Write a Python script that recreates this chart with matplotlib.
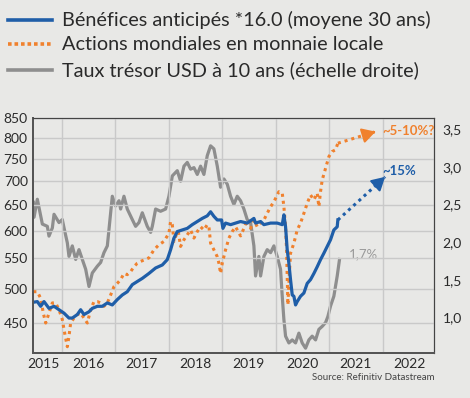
import matplotlib.pyplot as plt
import numpy as np
from matplotlib.lines import Line2D
from matplotlib.ticker import FixedLocator, FuncFormatter, NullFormatter

plt.rcParams['font.family'] = ['Lato', 'DejaVu Sans']

# Bénéfices anticipés *16.0 (axe gauche)
blue_t = [2015.470, 2015.545, 2015.607, 2015.670, 2015.763, 2015.857, 2015.950, 2016.044,
          2016.137, 2016.199, 2016.293, 2016.355, 2016.417, 2016.511, 2016.573, 2016.667,
          2016.760, 2016.854, 2016.947, 2017.040, 2017.134, 2017.227, 2017.321, 2017.414,
          2017.508, 2017.632, 2017.757, 2017.882, 2017.975, 2018.037, 2018.100, 2018.162,
          2018.255, 2018.349, 2018.442, 2018.536, 2018.629, 2018.723, 2018.785, 2018.847,
          2018.910, 2018.991, 2019.016, 2019.065, 2019.159, 2019.252, 2019.346, 2019.470,
          2019.595, 2019.626, 2019.720, 2019.782, 2019.907, 2020.031, 2020.125, 2020.156,
          2020.187, 2020.218, 2020.249, 2020.280, 2020.312, 2020.343, 2020.374, 2020.405,
          2020.467, 2020.530, 2020.592, 2020.654, 2020.717, 2020.779, 2020.841, 2020.903,
          2020.966, 2021.028, 2021.090, 2021.153, 2021.165]
blue_v = [480, 481, 474, 481, 471, 474, 469, 464,
          457, 457, 462, 469, 462, 466, 471, 474,
          474, 479, 476, 484, 491, 496, 507, 512,
          517, 525, 534, 539, 548, 565, 586, 598,
          601, 604, 611, 617, 623, 628, 636, 627,
          620, 620, 604, 614, 611, 614, 617, 614,
          623, 614, 617, 611, 614, 614, 611, 630,
          607, 565, 542, 515, 491, 489, 476, 481,
          489, 494, 509, 515, 525, 536, 548, 559,
          571, 583, 601, 607, 620]

# Actions mondiales en monnaie locale (axe gauche)
orange_t = [2015.470, 2015.545, 2015.607, 2015.657, 2015.701, 2015.763, 2015.826, 2015.888,
            2015.950, 2016.012, 2016.044, 2016.075, 2016.106, 2016.137, 2016.168, 2016.230,
            2016.293, 2016.355, 2016.417, 2016.480, 2016.542, 2016.604, 2016.667, 2016.729,
            2016.791, 2016.854, 2016.916, 2016.978, 2017.040, 2017.103, 2017.165, 2017.227,
            2017.290, 2017.352, 2017.414, 2017.477, 2017.632, 2017.726, 2017.819, 2017.913,
            2018.006, 2018.037, 2018.069, 2018.100, 2018.131, 2018.181, 2018.224, 2018.287,
            2018.349, 2018.411, 2018.474, 2018.536, 2018.598, 2018.660, 2018.723, 2018.754,
            2018.785, 2018.847, 2018.910, 2018.941, 2018.972, 2019.003, 2019.065, 2019.128,
            2019.190, 2019.252, 2019.346, 2019.408, 2019.470, 2019.533, 2019.595, 2019.657,
            2019.720, 2019.782, 2019.844, 2019.907, 2019.969, 2020.031, 2020.062, 2020.125,
            2020.156, 2020.187, 2020.206, 2020.218, 2020.231, 2020.255, 2020.280, 2020.343,
            2020.405, 2020.467, 2020.530, 2020.592, 2020.654, 2020.717, 2020.779, 2020.810,
            2020.841, 2020.872, 2020.935, 2020.997, 2021.059, 2021.121, 2021.165]
orange_v = [496, 496, 486, 464, 450, 464, 479, 479,
            469, 455, 441, 429, 418, 432, 450, 457,
            462, 464, 457, 450, 469, 481, 481, 479,
            474, 479, 491, 504, 509, 515, 525, 523,
            528, 536, 542, 545, 551, 565, 574, 580,
            595, 617, 611, 580, 589, 598, 571, 583,
            592, 601, 586, 598, 607, 601, 611, 607,
            577, 565, 553, 542, 525, 542, 565, 586,
            598, 607, 590, 604, 620, 604, 620, 607,
            614, 620, 633, 646, 656, 670, 677, 674,
            646, 607, 565, 520, 476, 520, 559, 577,
            601, 614, 633, 653, 670, 660, 674, 646,
            677, 702, 728, 755, 767, 771, 787]

# Taux trésor USD à 10 ans (axe droit)
grey_t = [2015.470, 2015.483, 2015.545, 2015.639, 2015.732, 2015.763, 2015.826, 2015.857,
          2015.950, 2016.012, 2016.044, 2016.106, 2016.137, 2016.199, 2016.262, 2016.324,
          2016.386, 2016.449, 2016.511, 2016.573, 2016.667, 2016.729, 2016.791, 2016.854,
          2016.916, 2016.947, 2017.009, 2017.072, 2017.103, 2017.165, 2017.227, 2017.321,
          2017.383, 2017.445, 2017.508, 2017.601, 2017.664, 2017.695, 2017.757, 2017.850,
          2017.944, 2018.006, 2018.069, 2018.162, 2018.224, 2018.287, 2018.349, 2018.411,
          2018.474, 2018.536, 2018.598, 2018.660, 2018.723, 2018.785, 2018.847, 2018.910,
          2018.972, 2019.034, 2019.097, 2019.159, 2019.221, 2019.283, 2019.346, 2019.408,
          2019.470, 2019.533, 2019.595, 2019.626, 2019.688, 2019.720, 2019.782, 2019.844,
          2019.907, 2019.969, 2020.031, 2020.093, 2020.125, 2020.156, 2020.187, 2020.249,
          2020.312, 2020.374, 2020.436, 2020.498, 2020.561, 2020.623, 2020.685, 2020.748,
          2020.810, 2020.872, 2020.935, 2020.978, 2021.028, 2021.090, 2021.153, 2021.196]
grey_v = [2.53, 2.33, 2.57, 2.24, 2.21, 2.08, 2.19, 2.37,
          2.26, 2.30, 2.19, 1.99, 1.81, 1.95, 1.77, 1.90,
          1.77, 1.64, 1.41, 1.59, 1.68, 1.73, 1.86, 1.95,
          2.39, 2.61, 2.48, 2.55, 2.44, 2.61, 2.44, 2.30,
          2.21, 2.26, 2.39, 2.21, 2.13, 2.21, 2.44, 2.41,
          2.44, 2.61, 2.88, 2.95, 2.81, 3.01, 3.06, 2.97,
          2.99, 2.90, 3.01, 2.90, 3.15, 3.28, 3.24, 3.01,
          2.73, 2.84, 2.77, 2.61, 2.50, 2.61, 2.55, 2.44,
          2.30, 2.26, 1.95, 1.55, 1.81, 1.55, 1.81, 1.90,
          1.86, 1.95, 1.81, 1.64, 1.28, 0.97, 0.75, 0.66,
          0.70, 0.66, 0.79, 0.66, 0.59, 0.70, 0.75, 0.70,
          0.84, 0.88, 0.93, 1.01, 1.15, 1.28, 1.55, 1.77]

# projections
blue_proj = [2022.05, 709]
orange_proj = [2021.87, 816]

years = [2015, 2016, 2017, 2018, 2019, 2020, 2021, 2022]
left_ticks = [450, 500, 550, 600, 650, 700, 750, 800, 850]
right_ticks = [0.5, 1.0, 1.5, 2.0, 2.5, 3.0, 3.5]

c_blue = '#1f5ea8'
c_orange = '#f0812e'
c_grey = '#8e8e8e'
bg = '#e8e8e6'
txt = '#2a2a2a'

fig = plt.figure(figsize=(4.7, 3.98), dpi=100, facecolor=bg)
ax = fig.add_axes([0.0709, 0.1138, 0.8533, 0.5897])
ax2 = ax.twinx()
ax.set_zorder(ax2.get_zorder() + 1)
ax.patch.set_visible(False)
ax2.patch.set_facecolor('white')

ax2.plot(grey_t, grey_v, color=c_grey, lw=2.3, solid_joinstyle='round')
ax.plot(orange_t, orange_v, color=c_orange, lw=2.2, linestyle=(0, (1, 1.3)))
ax.plot(blue_t, blue_v, color=c_blue, lw=2.3, solid_joinstyle='round')


def proj(t, v, tip, color):
    ax.plot([t[-1], tip[0]], [v[-1], tip[1]], color=color, lw=2.2, linestyle=(0, (1, 1.3)))
    f = 0.95
    xs = t[-1] + f * (tip[0] - t[-1])
    ys = np.exp(np.log(v[-1]) + f * (np.log(tip[1]) - np.log(v[-1])))
    ax.annotate('', xy=(tip[0], tip[1]), xytext=(xs, ys),
                arrowprops=dict(arrowstyle='-|>,head_length=0.8,head_width=0.45',
                                color=color, lw=1.5, mutation_scale=10,
                                shrinkA=0, shrinkB=0))


proj(blue_t, blue_v, blue_proj, c_blue)
proj(orange_t, orange_v, orange_proj, c_orange)

ax.text(2022.0, 722, '~15%', color=c_blue, fontsize=9.5, ha='left', va='center',
        fontweight='bold')
ax.text(2022.0, 818, '~5-10%?', color=c_orange, fontsize=9.5, ha='left', va='center',
        fontweight='bold')
ax2.text(2021.38, 1.84, '1,7%', color='#9a9a9a', fontsize=9.5, ha='left', va='center')

ax.set_yscale('log')
ax.set_ylim(410.3, 851.3)
ax.set_xlim(2015.47, 2022.97)
ax2.set_ylim(0.53, 3.65)

ax.yaxis.set_major_locator(FixedLocator(left_ticks))
ax.yaxis.set_major_formatter(FuncFormatter(lambda v, p: '%d' % v))
ax.yaxis.set_minor_locator(FixedLocator([]))
ax.yaxis.set_minor_formatter(NullFormatter())
ax2.yaxis.set_major_locator(FixedLocator(right_ticks))
ax2.yaxis.set_major_formatter(FuncFormatter(lambda v, p: ('%.1f' % v).replace('.', ',')))

ax.xaxis.set_major_locator(FixedLocator(years[1:]))
ax.xaxis.set_major_formatter(NullFormatter())
ax.xaxis.set_minor_locator(FixedLocator([2015.66] + [y + 0.5 for y in years[1:]]))
ax.xaxis.set_minor_formatter(FuncFormatter(lambda v, p: '%d' % int(v)))

ax.grid(True, which='major', color='#c9c9c9', lw=1.0)
ax.tick_params(which='both', length=0, labelsize=10, labelcolor=txt, pad=4)
ax2.tick_params(length=0, labelsize=10, labelcolor=txt, pad=6)

for a in (ax, ax2):
    a.spines['left'].set_color('#555555')
    a.spines['left'].set_linewidth(1.4)
    a.spines['bottom'].set_color('#555555')
    a.spines['bottom'].set_linewidth(1.4)
    a.spines['top'].set_color('#444444')
    a.spines['top'].set_linewidth(0.8)
    a.spines['right'].set_color('#444444')
    a.spines['right'].set_linewidth(0.8)

fig.text(0.924, 0.052, 'Source: Refinitiv Datastream', fontsize=7, color='#444444',
         ha='right', va='center')

# légende
labels = ['Bénéfices anticipés *16.0 (moyene 30 ans)',
          'Actions mondiales en monnaie locale',
          'Taux trésor USD à 10 ans (échelle droite)']
styles = [(c_blue, '-'), (c_orange, (0, (1, 0.8))), (c_grey, '-')]
rows = [0.951, 0.889, 0.824]
for lab, (c, ls), yy in zip(labels, styles, rows):
    fig.add_artist(Line2D([0.017, 0.111], [yy, yy], color=c, lw=2.6, linestyle=ls,
                          transform=fig.transFigure))
    fig.text(0.131, yy, lab, fontsize=14.3, color=txt, ha='left', va='center')

fig.savefig('out.png', dpi=100, facecolor=bg)
